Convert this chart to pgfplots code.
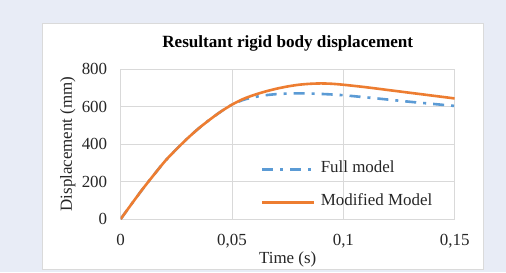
\documentclass[border=0pt]{standalone}
\usepackage{pgfplots}
\pgfplotsset{compat=1.18}
\usepackage{fontspec}
\setmainfont{Liberation Serif}
\definecolor{bgc}{HTML}{E8ECF6}
\definecolor{gridc}{HTML}{D9D9D9}
\definecolor{cardb}{HTML}{DADADA}
\definecolor{blu}{HTML}{5B9BD5}
\definecolor{org}{HTML}{ED7D31}
\definecolor{txt}{HTML}{262626}
\begin{document}
\begin{tikzpicture}[x=1bp,y=1bp]
\fill[bgc] (0,0) rectangle (506,272);
\useasboundingbox (0,0) rectangle (506,272);
\filldraw[fill=white,draw=cardb,line width=1bp] (42,3) rectangle (483,249);
\begin{axis}[
  at={(120.7bp,53bp)}, anchor=south west,
  scale only axis, width=334bp, height=150bp,
  xmin=0, xmax=0.15, ymin=0, ymax=800,
  xtick={0,0.05,0.1,0.15}, xticklabels={0,{0,05},{0,1},{0,15}},
  ytick={0,200,400,600,800},
  grid=major, major grid style={gridc, line width=1bp},
  axis line style={gridc, line width=1bp},
  tick style={draw=none},
  /pgf/number format/assume math mode=true,
  tick label style={font=\fontsize{17}{19}\selectfont, text=txt},
  xticklabel style={anchor=base, yshift=-26.5bp},
  yticklabel style={anchor=east, xshift=-10bp},
  title={Resultant rigid body displacement},
  title style={font=\fontsize{17.2}{19}\selectfont\bfseries, text=black, at={([yshift=15.5bp]axis description cs:0.5,1)}, anchor=base},
  xlabel={Time (s)},
  xlabel style={font=\fontsize{17}{19}\selectfont, text=txt, at={([yshift=-44.5bp]axis description cs:0.5,0)}, anchor=base},
  ylabel={Displacement (mm)},
  ylabel style={font=\fontsize{17}{19}\selectfont, text=txt, at={([xshift=-53bp]axis description cs:0,0.5)}, anchor=center},
  legend style={at={(0.42,0.395)}, anchor=north west, draw=none, fill=none, inner sep=0pt,
    font=\fontsize{17}{19}\selectfont, text=txt,
    nodes={text height=11bp, text depth=3.5bp, inner sep=2bp},
    row sep=14.5bp},
  legend cell align=left,
  legend image code/.code={\draw[#1] (0bp,0bp) -- (52bp,0bp); \path (55bp,0bp);},
]
\addplot[blu, line width=2.6bp, dash pattern=on 11bp off 7bp on 3bp off 7bp, smooth] coordinates {
(0,0) (0.005,82) (0.01,162) (0.015,237) (0.02,310) (0.025,372) (0.03,430) (0.035,483) (0.04,530) (0.045,573) (0.05,610)
(0.055,635) (0.06,650) (0.065,660) (0.07,666) (0.075,669) (0.08,670) (0.085,669) (0.09,667) (0.095,664) (0.1,660)
(0.11,649) (0.12,637) (0.13,625) (0.14,614) (0.15,603)
};
\addlegendentry{Full model}
\addplot[org, line width=2.6bp, smooth] coordinates {
(0,0) (0.005,82) (0.01,162) (0.015,237) (0.02,310) (0.025,372) (0.03,430) (0.035,483) (0.04,530) (0.045,573) (0.05,610)
(0.055,640) (0.06,662) (0.065,680) (0.07,695) (0.075,707) (0.08,716) (0.085,721) (0.09,723) (0.095,721) (0.1,716)
(0.11,703) (0.12,688) (0.13,673) (0.14,658) (0.15,643)
};
\addlegendentry{Modified Model}
\end{axis}
\end{tikzpicture}
\end{document}
